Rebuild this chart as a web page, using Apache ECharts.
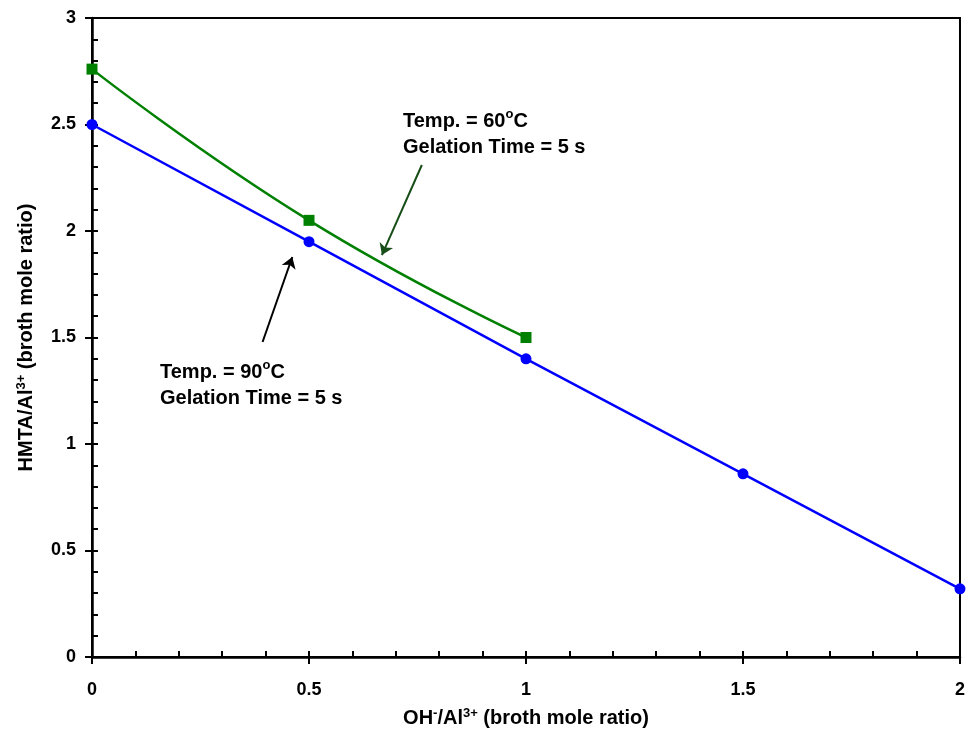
<!DOCTYPE html>
<html>
<head>
<meta charset="utf-8">
<script src="https://cdn.jsdelivr.net/npm/echarts@6/dist/echarts.min.js"></script>
<style>
  html, body { margin: 0; padding: 0; background: #fff; }
  #chart { width: 968px; height: 745px; }
</style>
</head>
<body>
<div id="chart"></div>
<script>
// data
const xBlue = [0, 0.5, 1, 1.5, 2];
const yBlue = [2.5, 1.95, 1.4, 0.86, 0.32];   // Temp. = 90°C
const xGreen = [0, 0.5, 1];
const yGreen = [2.76, 2.05, 1.5];             // Temp. = 60°C

// arrows, in data coords
const arrowGreen = [[0.76, 2.31], [0.668, 1.887]];
const arrowBlack = [[0.393, 1.479], [0.4615, 1.878]];

const FONT = 'Liberation Sans, Arial, sans-serif';
const rich = {
  b: { fontFamily: FONT, fontWeight: 'bold', fontSize: 20, color: '#000' },
  sup: { fontFamily: FONT, fontWeight: 'bold', fontSize: 13, color: '#000', verticalAlign: 'top', padding: [0, 0, 9, 0] }
};
// annotation text, with more room between the two lines
const noteRich = {
  b: { fontFamily: FONT, fontWeight: 'bold', fontSize: 20, color: '#000', lineHeight: 26 },
  sup: { fontFamily: FONT, fontWeight: 'bold', fontSize: 13, color: '#000', lineHeight: 26, verticalAlign: 'top' }
};

const myChart = echarts.init(document.getElementById('chart'));

const pts = (xs, ys) => xs.map((x, i) => [x, ys[i]]);

function arrow(pair, color) {
  return {
    type: 'line', xAxisIndex: 0, yAxisIndex: 0, data: [], silent: true,
    markLine: {
      silent: true, animation: false,
      symbol: ['none', 'arrow'], symbolSize: 11,
      label: { show: false },
      lineStyle: { color: color, width: 2, type: 'solid' },
      data: [[{ coord: pair[0] }, { coord: pair[1] }]]
    }
  };
}

const baseAxis = {
  axisLine: { lineStyle: { color: '#000', width: 2.5 } },
  splitLine: { show: false },
  axisLabel: { fontFamily: FONT, fontWeight: 'bold', fontSize: 18, color: '#000' }
};

myChart.setOption({
  animation: false,
  grid: { left: 92, top: 18, right: 5, bottom: 88, show: true, borderColor: '#000', borderWidth: 2 },
  xAxis: [
    Object.assign({}, baseAxis, {
      type: 'value', min: 0, max: 2, interval: 0.5, position: 'bottom',
      axisTick: { inside: true, length: 6, lineStyle: { color: '#000', width: 2 } },
      minorTick: { show: true, splitNumber: 5, length: 6, lineStyle: { color: '#000', width: 2 } },
      axisLabel: Object.assign({}, baseAxis.axisLabel, { margin: 24 }),
      name: '{b|OH}{sup|-}{b|/Al}{sup|3+}{b| (broth mole ratio)}',
      nameLocation: 'middle', nameGap: 50,
      nameTextStyle: { rich: rich }
    }),
    {
      type: 'value', min: 0, max: 2, interval: 0.5, position: 'bottom', offset: 0,
      axisLine: { show: false }, axisLabel: { show: false }, splitLine: { show: false },
      axisTick: { inside: false, length: 7, lineStyle: { color: '#000', width: 2 } }
    }
  ],
  yAxis: [
    Object.assign({}, baseAxis, {
      type: 'value', min: 0, max: 3, interval: 0.5, position: 'left',
      axisTick: { inside: true, length: 6, lineStyle: { color: '#000', width: 2 } },
      minorTick: { show: true, splitNumber: 5, length: 6, lineStyle: { color: '#000', width: 2 } },
      axisLabel: Object.assign({}, baseAxis.axisLabel, { margin: 16 }),
      name: '{b|HMTA/Al}{sup|3+}{b| (broth mole ratio)}',
      nameLocation: 'middle', nameGap: 55, nameRotate: 90,
      nameTextStyle: { rich: rich }
    }),
    {
      type: 'value', min: 0, max: 3, interval: 0.5, position: 'left', offset: 0,
      axisLine: { show: false }, axisLabel: { show: false }, splitLine: { show: false },
      axisTick: { inside: false, length: 7, lineStyle: { color: '#000', width: 2 } }
    }
  ],
  series: [
    {
      name: '60', type: 'line', data: pts(xGreen, yGreen), smooth: 0.5,
      symbol: 'rect', symbolSize: 11,
      lineStyle: { color: '#008000', width: 2.5 },
      itemStyle: { color: '#008000' },
      clip: false, z: 3
    },
    {
      name: '90', type: 'line', data: pts(xBlue, yBlue),
      symbol: 'circle', symbolSize: 11,
      lineStyle: { color: '#0000FF', width: 2.5 },
      itemStyle: { color: '#0000FF' },
      clip: false, z: 4
    },
    arrow(arrowGreen, '#174d17'),
    arrow(arrowBlack, '#000')
  ],
  graphic: [
    {
      type: 'text', left: 403, top: 108,
      style: { text: '{b|Temp. = 60}{sup|o}{b|C}\n{b|Gelation Time = 5 s}', rich: noteRich }
    },
    {
      type: 'text', left: 160, top: 359,
      style: { text: '{b|Temp. = 90}{sup|o}{b|C}\n{b|Gelation Time = 5 s}', rich: noteRich }
    }
  ]
});

window.onresize = function () {
  myChart.resize();
};
</script>
</body>
</html>
